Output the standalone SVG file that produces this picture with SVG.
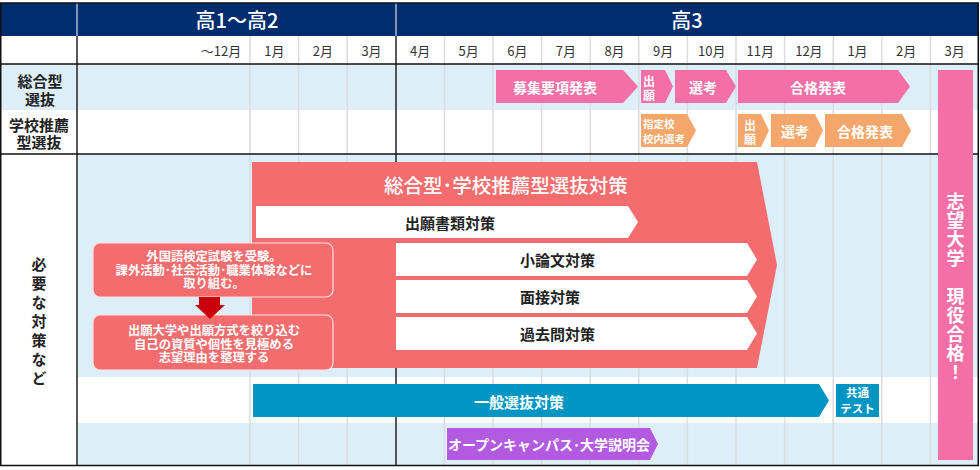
<svg xmlns="http://www.w3.org/2000/svg" width="980" height="470" viewBox="0 0 980 470">
<style>
text{font-family:"Noto Sans CJK JP","Noto Sans",sans-serif;dominant-baseline:central;text-anchor:middle}
tspan{dominant-baseline:central}
.hd{fill:#fff;font-size:20px;font-weight:500}
.mo{fill:#333;font-size:13px}
.lb{fill:#222;font-size:15px;font-weight:700}
.w{fill:#fff;font-weight:700}
.k{fill:#222;font-size:15px;font-weight:700}
.v{writing-mode:vertical-rl;text-orientation:upright}
.g{stroke:#d9dde0;stroke-width:1.5}
.pink{fill:#f46fa6}
.org{fill:#f5a76b}
.coral{fill:#f36d6e}
.blue{fill:#0095c2}
.purp{fill:#b25be1}
.wh{fill:#fff}
</style>
<rect x="0" y="0" width="980" height="470" fill="#fff"/>
<g id="bands">
<rect x="1" y="3" width="977" height="33" fill="#012d6f"/>
<rect x="1" y="64" width="977" height="46" fill="#ddeef8"/>
<rect x="77" y="154" width="901" height="223" fill="#ddeef8"/>
<rect x="77" y="423" width="901" height="43" fill="#ddeef8"/>
</g>
<g id="grid">
<g class="g">
<line x1="250" y1="36" x2="250" y2="466"/>
<line x1="298.6" y1="36" x2="298.6" y2="466"/>
<line x1="347.2" y1="36" x2="347.2" y2="466"/>
<line x1="444.4" y1="36" x2="444.4" y2="466"/>
<line x1="493" y1="36" x2="493" y2="466"/>
<line x1="541.6" y1="36" x2="541.6" y2="466"/>
<line x1="590.2" y1="36" x2="590.2" y2="466"/>
<line x1="638.8" y1="36" x2="638.8" y2="466"/>
<line x1="687.4" y1="36" x2="687.4" y2="466"/>
<line x1="736" y1="36" x2="736" y2="466"/>
<line x1="784.6" y1="36" x2="784.6" y2="466"/>
<line x1="833.2" y1="36" x2="833.2" y2="466"/>
<line x1="881.8" y1="36" x2="881.8" y2="466"/>
<line x1="930.4" y1="36" x2="930.4" y2="466"/>
</g>
<line x1="77" y1="3" x2="77" y2="36" stroke="#fff" stroke-width="1"/>
<line x1="396" y1="3" x2="396" y2="36" stroke="#fff" stroke-width="1"/>
<line x1="77" y1="36" x2="77" y2="466" stroke="#222" stroke-width="1.5"/>
<line x1="396" y1="36" x2="396" y2="466" stroke="#222" stroke-width="1.5"/>
<line x1="0" y1="64" x2="978" y2="64" stroke="#111" stroke-width="1.5"/>
<line x1="0" y1="154" x2="978" y2="154" stroke="#111" stroke-width="1.5"/>
<rect x="0.75" y="3" width="977.5" height="462.5" fill="none" stroke="#111" stroke-width="1.5"/>
</g>
<g id="header">
<text class="hd" x="237" y="19.5">高1～高2</text>
<text class="hd" x="687" y="19.5">高3</text>
<text class="mo" x="221" y="50">～12月</text>
<text class="mo" x="274.3" y="50">1月</text>
<text class="mo" x="322.9" y="50">2月</text>
<text class="mo" x="371.5" y="50">3月</text>
<text class="mo" x="420.1" y="50">4月</text>
<text class="mo" x="468.7" y="50">5月</text>
<text class="mo" x="517.3" y="50">6月</text>
<text class="mo" x="565.9" y="50">7月</text>
<text class="mo" x="614.5" y="50">8月</text>
<text class="mo" x="663.1" y="50">9月</text>
<text class="mo" x="711.7" y="50">10月</text>
<text class="mo" x="760.3" y="50">11月</text>
<text class="mo" x="808.9" y="50">12月</text>
<text class="mo" x="857.5" y="50">1月</text>
<text class="mo" x="906.1" y="50">2月</text>
<text class="mo" x="954.7" y="50">3月</text>
</g>
<g id="label-sogo"><text class="lb"><tspan x="40" y="80">総合型</tspan><tspan x="40" y="98">選抜</tspan></text></g>
<g id="label-suisen"><text class="lb"><tspan x="39" y="124">学校推薦</tspan><tspan x="39" y="141">型選抜</tspan></text></g>
<g id="label-taisaku"><text class="lb v" x="39" y="323.5" letter-spacing="4">必要な対策など</text></g>
<g id="sogo-boshu"><polygon class="pink" points="496,70 623,70 638,86.5 623,103 496,103"/><text class="w" font-size="14" x="555" y="86.5">募集要項発表</text></g>
<g id="sogo-shutsugan"><polygon class="pink" points="641,70 665,70 673,86.5 665,103 641,103"/><text class="w" font-size="12"><tspan x="649" y="80">出</tspan><tspan x="649" y="94">願</tspan></text></g>
<g id="sogo-senko"><polygon class="pink" points="675,70 726,70 736,86.5 726,103 675,103"/><text class="w" font-size="14" x="703" y="86.5">選考</text></g>
<g id="sogo-gokaku"><polygon class="pink" points="738,70 898,70 910,86.5 898,103 738,103"/><text class="w" font-size="14" x="818" y="86.5">合格発表</text></g>
<g id="suisen-shitei"><polygon class="org" points="641,114 687,114 696,130.5 687,147 641,147"/><text class="w" font-size="10.5" style="text-anchor:start"><tspan x="643" y="123">指定校</tspan><tspan x="643" y="137.5">校内選考</tspan></text></g>
<g id="suisen-shutsugan"><polygon class="org" points="738,114 761,114 769,130.5 761,147 738,147"/><text class="w" font-size="12"><tspan x="750" y="124">出</tspan><tspan x="750" y="138">願</tspan></text></g>
<g id="suisen-senko"><polygon class="org" points="771,114 815,114 823,130.5 815,147 771,147"/><text class="w" font-size="14" x="795" y="130.5">選考</text></g>
<g id="suisen-gokaku"><polygon class="org" points="825,114 902,114 911,130.5 902,147 825,147"/><text class="w" font-size="14" x="865" y="130.5">合格発表</text></g>
<g id="taisaku-main"><polygon class="coral" points="252,162 757,162 777,265 757,368 252,368"/><text class="w" font-size="19.5" x="506" y="184" style="font-weight:500">総合型･学校推薦型選抜対策</text></g>
<g id="shorui"><polygon class="wh" points="256,206 628,206 638,222 628,238 256,238"/><text class="k" x="450" y="222">出願書類対策</text></g>
<g id="shoronbun"><polygon class="wh" points="396,243 747,243 757,259.5 747,276 396,276"/><text class="k" x="520" y="259.5" style="text-anchor:start">小論文対策</text></g>
<g id="mensetsu"><polygon class="wh" points="396,280 747,280 757,296.5 747,313 396,313"/><text class="k" x="520" y="296.5" style="text-anchor:start">面接対策</text></g>
<g id="kakomon"><polygon class="wh" points="396,317 747,317 757,333.5 747,350 396,350"/><text class="k" x="520" y="333.5" style="text-anchor:start">過去問対策</text></g>
<g id="box1"><rect x="93" y="243" width="240" height="54" rx="7" class="coral" stroke="#fde0e0" stroke-width="1.2"/>
<text class="w" font-size="12.3"><tspan x="214" y="256">外国語検定試験を受験。</tspan><tspan x="214" y="269.5">課外活動･社会活動･職業体験などに</tspan><tspan x="214" y="283">取り組む。</tspan></text></g>
<g id="box2"><rect x="93" y="315" width="240" height="55" rx="7" class="coral" stroke="#fde0e0" stroke-width="1.2"/>
<text class="w" font-size="12.3"><tspan x="214" y="330">出願大学や出願方式を絞り込む</tspan><tspan x="214" y="343.5">自己の資質や個性を見極める</tspan><tspan x="214" y="357">志望理由を整理する</tspan></text></g>
<g id="connectors"><polygon fill="#c9000b" points="199,297 220,297 220,305 225,305 210,319 195,305 199,305"/></g>
<g id="ippan"><polygon class="blue" points="253,384 819,384 829,400.5 819,417 253,417"/><text class="w" font-size="15" x="519" y="401">一般選抜対策</text></g>
<g id="kyotsu"><rect x="836" y="384" width="43" height="33" class="blue"/><text class="w" font-size="11.5"><tspan x="857.5" y="392">共通</tspan><tspan x="857.5" y="408">テスト</tspan></text></g>
<g id="opencampus"><polygon class="purp" points="447,428 650,428 658,444 650,460 447,460"/><text class="w" font-size="14" x="549" y="444">オープンキャンパス･大学説明会</text></g>
<g id="goal"><rect x="938" y="70" width="35" height="390" class="pink"/>
<text class="w v" font-size="18" x="955.5" y="287.5" letter-spacing="1">志望大学　現役合格！</text></g>
</svg>
